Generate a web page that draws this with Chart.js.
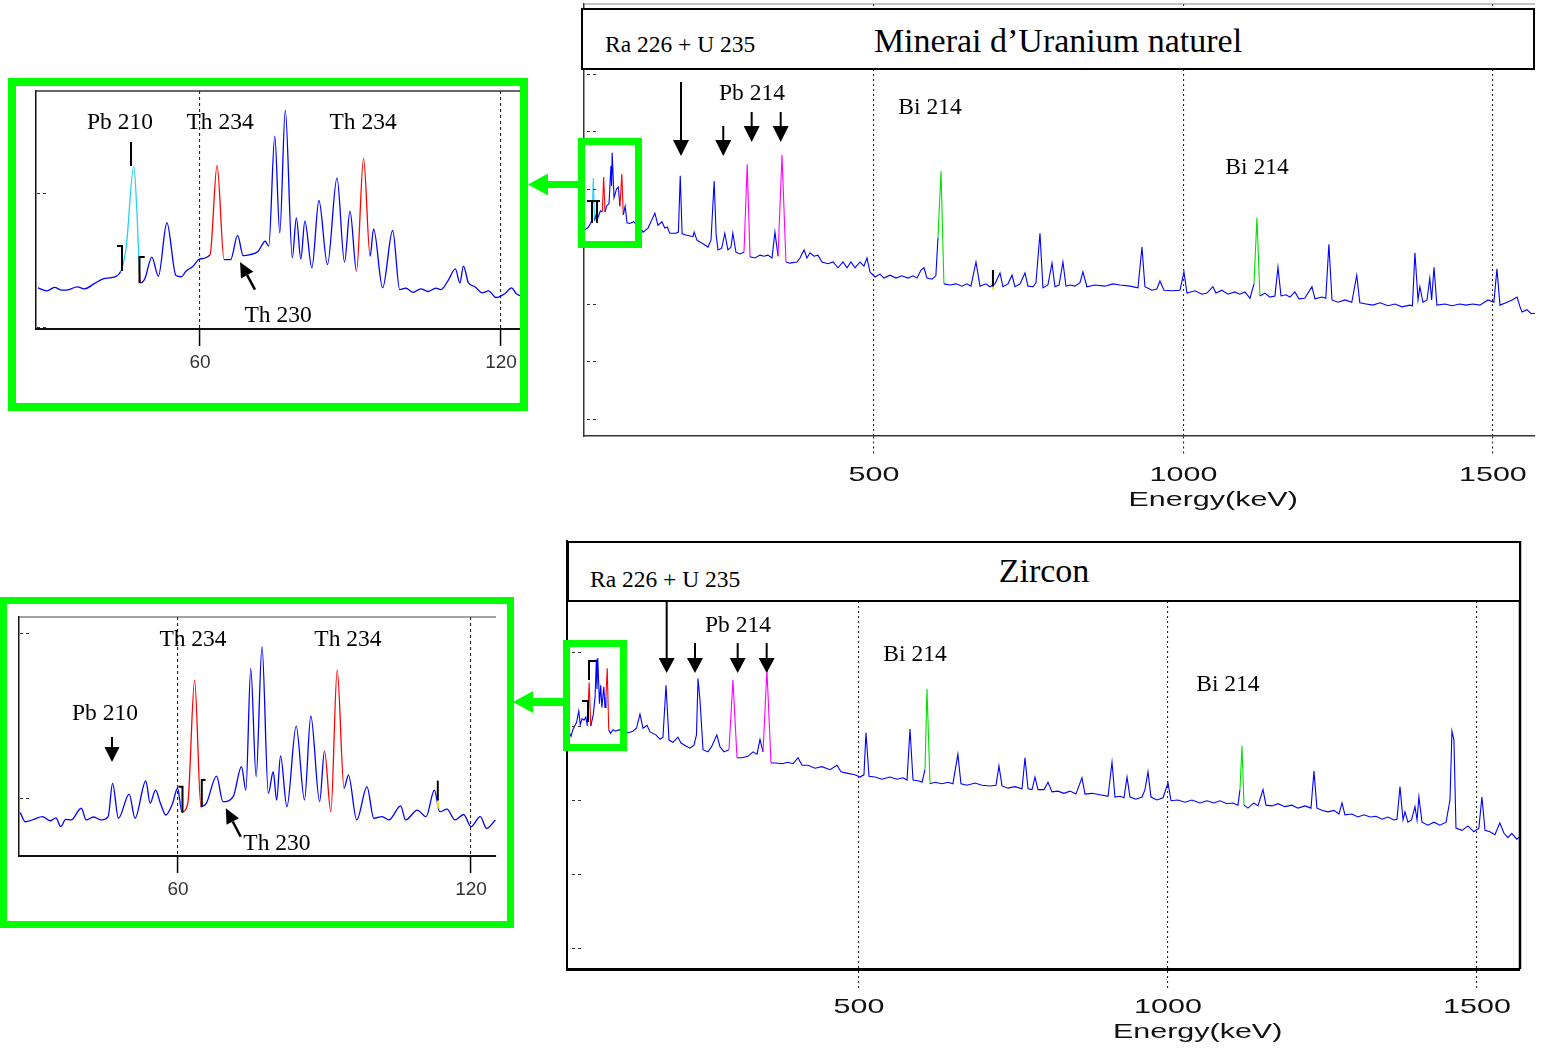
<!DOCTYPE html>
<html>
<head>
<meta charset="utf-8">
<title>Spectres gamma</title>
<script src="https://cdn.jsdelivr.net/npm/chart.js@4.4.1/dist/chart.umd.min.js"></script>
<style>
  html, body { margin: 0; background: #fff; }
  #page { position: relative; width: 1543px; height: 1048px; overflow: hidden; background: #fff; }
  #page canvas { position: absolute; }
  .gbox { position: absolute; box-sizing: border-box; border: 7px solid #00ff00; }
  .tbox { position: absolute; box-sizing: border-box; border: 2px solid #000; background: #fff;
          font-family: "Liberation Serif", "Times New Roman", serif; color: #000; }
  .tbox span { position: absolute; white-space: nowrap; }
  .tbox .sub { font-size: 23.5px; line-height: 24px; }
  .tbox .name { left: 0; right: 0; text-align: center; font-size: 34px; line-height: 40px; }
  #arrows { position: absolute; left: 0; top: 0; }
</style>
</head>
<body>
<div id="page">
  <canvas id="uranium" width="983" height="520" style="left:560px;top:0"></canvas>
  <canvas id="zircon" width="998" height="518" style="left:545px;top:530px"></canvas>
  <canvas id="uraniumZoom" width="512" height="317" style="left:16px;top:86px"></canvas>
  <canvas id="zirconZoom" width="500" height="316" style="left:7px;top:604px"></canvas>

  <div class="tbox" style="left:581px;top:8px;width:954px;height:62px">
    <span class="sub" style="left:22px;top:22px">Ra 226 + U 235</span>
    <span class="name" style="top:11px">Minerai d’Uranium naturel</span>
  </div>
  <div class="tbox" style="left:567px;top:541px;width:954px;height:61px">
    <span class="sub" style="left:21px;top:24px">Ra 226 + U 235</span>
    <span class="name" style="top:8px">Zircon</span>
  </div>

  <div class="gbox" style="left:8px;top:78px;width:520px;height:333px;border-width:8px"></div>
  <div class="gbox" style="left:578px;top:138px;width:64px;height:110px"></div>
  <div class="gbox" style="left:0;top:597px;width:514px;height:331px"></div>
  <div class="gbox" style="left:563px;top:640px;width:64px;height:111px"></div>
  <svg id="arrows" width="1543" height="1048">
    <g fill="#00ff00">
      <rect x="546" y="181" width="33" height="7"/>
      <polygon points="528,184.5 548,173.5 548,195.5"/>
      <rect x="531" y="698" width="33" height="8"/>
      <polygon points="513,702 533,691 533,713"/>
    </g>
  </svg>
</div>

<script>
// energies in keV, counts on the analyser's log (decade) display scale
const uraniumEnergy = [
  33, 38, 42, 44.5, 46.5, 48.5, 51, 54, 58, 61, 63.3, 65.5,
  68, 72, 75, 76, 77, 80, 84, 87, 89.5, 92.6, 95, 98,
  101, 105, 112, 118, 124, 127, 135, 146, 151, 157.5, 162, 166,
  170, 180, 184, 187, 190, 196, 207.6, 209.5, 214, 225, 231.8, 236.7,
  241.8, 245, 248, 254, 259, 264, 269, 272, 277, 283.5, 290, 295.2,
  299.7, 307.8, 315.8, 322, 328.7, 335.2, 340, 345, 351.4, 357.8, 364, 375.6,
  380.5, 387, 391.7, 396.6, 403, 409.5, 416, 425.7, 433.8, 441.9, 450, 456.4,
  462.9, 469.3, 477.4, 483.8, 488.7, 493.5, 501.6, 509.7, 516, 526, 535.7, 545,
  555, 563, 569.5, 576, 580.8, 585.6, 593.7, 600, 603.4, 608.3, 613, 622.8,
  632.5, 642, 650, 656.7, 664.8, 671.3, 681, 687.4, 695.5, 703.6, 708.4, 716.5,
  723, 727.8, 736, 744, 748.8, 757, 761.7, 768.2, 773, 781, 787.6, 792.4,
  799, 805.3, 810.2, 816.6, 824.7, 832.8, 837.6, 844, 857, 873, 886, 897.4,
  913.6, 926.5, 933, 937.8, 949, 957, 962, 968.5, 981.4, 994.4, 1000.8, 1005.7,
  1018.6, 1030, 1038, 1047.6, 1052.5, 1062, 1072, 1083, 1091, 1099.4, 1107.5, 1114,
  1118.7, 1123.6, 1131.7, 1139.7, 1147.8, 1152.7, 1157.6, 1165.6, 1172, 1180, 1186.6, 1196,
  1207.6, 1212.5, 1223.8, 1230, 1235, 1240, 1249.6, 1261, 1272, 1280, 1285, 1295,
  1306, 1317.6, 1330.5, 1341.8, 1353, 1366, 1370, 1374, 1379, 1382, 1387, 1393.5,
  1398, 1401, 1404.8, 1409.5, 1422.5, 1433.8, 1446.7, 1456.4, 1467.7, 1479, 1492, 1501.6,
  1506.5, 1511.4, 1521, 1531, 1539, 1543.8, 1547, 1555, 1561.7, 1568
];
const uraniumCounts = [
  3.29, 3.33, 3.40, 3.47, 4.19, 3.45, 3.55, 3.50, 3.62, 3.60, 4.21, 3.60,
  3.70, 3.75, 4.40, 4.05, 4.63, 3.85, 4.00, 4.03, 3.70, 4.26, 3.55, 3.70,
  3.41, 3.40, 3.43, 3.35, 3.30, 3.25, 3.32, 3.58, 3.37, 3.43, 3.32, 3.34,
  3.23, 3.23, 3.25, 4.23, 3.22, 3.20, 3.17, 3.25, 3.11, 3.04, 2.99, 3.11,
  4.14, 3.20, 2.94, 2.97, 3.23, 2.94, 2.99, 3.23, 2.90, 2.87, 2.90, 4.43,
  2.82, 2.80, 2.85, 2.83, 2.85, 2.80, 3.25, 2.83, 4.59, 2.73, 2.71, 2.73,
  2.80, 2.94, 2.80, 2.89, 2.83, 2.85, 2.73, 2.70, 2.73, 2.63, 2.73, 2.63,
  2.73, 2.63, 2.73, 2.66, 2.80, 2.56, 2.47, 2.52, 2.45, 2.50, 2.45, 2.49,
  2.45, 2.49, 2.45, 2.59, 2.63, 2.45, 2.43, 2.49, 3.15, 4.31, 2.35, 2.33,
  2.35, 2.31, 2.35, 2.31, 2.73, 2.31, 2.35, 2.30, 2.35, 2.54, 2.30, 2.35,
  2.50, 2.30, 2.35, 2.54, 2.31, 2.30, 2.37, 3.23, 2.28, 2.33, 2.71, 2.30,
  2.33, 2.73, 2.31, 2.33, 2.31, 2.37, 2.56, 2.30, 2.33, 2.31, 2.35, 2.33,
  2.31, 2.28, 2.99, 2.30, 2.24, 2.26, 2.40, 2.24, 2.23, 2.24, 2.56, 2.19,
  2.23, 2.17, 2.19, 2.30, 2.19, 2.24, 2.17, 2.21, 2.17, 2.21, 2.10, 2.35,
  3.50, 2.14, 2.19, 2.12, 2.14, 2.64, 2.14, 2.16, 2.12, 2.21, 2.09, 2.10,
  2.30, 2.09, 2.12, 2.10, 3.04, 2.07, 2.03, 2.07, 2.03, 2.50, 2.02, 2.00,
  1.98, 2.02, 1.97, 2.00, 1.95, 1.98, 1.97, 2.89, 2.07, 2.30, 2.03, 2.07,
  2.45, 2.07, 2.64, 1.98, 2.00, 1.97, 2.00, 1.98, 2.00, 1.98, 2.07, 2.03,
  2.61, 1.98, 2.02, 2.07, 2.12, 1.95, 1.86, 1.90, 1.83, 1.84
];

const zirconEnergy = [
  28, 31, 34, 37, 40, 43, 46.5, 49, 52, 55, 58, 60.5,
  63.3, 66, 70, 73, 75, 76, 77.3, 80, 82, 84, 87, 89,
  90.5, 92.6, 95, 98, 102, 106, 112, 120, 126.2, 134, 140, 145.6,
  150.5, 157, 161.8, 171.5, 178, 182.8, 187.7, 192.6, 199, 207, 212, 220,
  226.5, 233, 237, 239.5, 242.7, 247.6, 255.7, 262, 270, 275, 281.6, 289.6,
  296, 302.6, 310.7, 320.4, 328.5, 335, 339.8, 344.7, 351, 357.6, 365.7, 375.4,
  385, 393.2, 401.3, 407.8, 417.5, 428.8, 440, 453, 464.4, 470.9, 482, 493.5,
  501.6, 508, 511.3, 516.2, 526, 537, 550, 561.5, 571.2, 577.7, 582.5, 587.4,
  595.5, 602, 606.8, 610, 614.9, 623, 634.3, 644, 652, 660, 665, 674.8,
  687.7, 699, 712, 721.7, 726.5, 731.4, 741, 752.4, 763.8, 768.6, 773.5, 780,
  784.8, 789.6, 799.4, 805.8, 812.3, 822, 831.7, 841.4, 851, 860.8, 865.7, 877,
  890, 903, 909.4, 914.2, 922.3, 928.8, 933.7, 938.5, 948, 958, 962.8, 967.6,
  972.5, 982, 992, 1000, 1004.9, 1016, 1027.5, 1038.8, 1051.8, 1063, 1074.4, 1084,
  1095.5, 1105, 1113.3, 1116.5, 1119.7, 1123, 1129.4, 1139, 1145.6, 1153.7, 1158.6, 1168.3,
  1178, 1189.3, 1200.6, 1210.4, 1221.7, 1231.4, 1236.2, 1241, 1249, 1258.9, 1268.6, 1276.7,
  1281.6, 1286.4, 1297.7, 1307.4, 1317, 1327, 1336.6, 1346.3, 1356, 1365.7, 1370.5, 1375.4,
  1380.3, 1383.5, 1388.3, 1394, 1399.7, 1403, 1406, 1411, 1420.7, 1430.4, 1440, 1450,
  1456.3, 1459.5, 1462.7, 1466, 1475.7, 1485.4, 1495, 1503, 1508, 1513, 1521, 1529,
  1537, 1543.7, 1550, 1556.3, 1564.4, 1569
];
const zirconCounts = [
  2.88, 2.92, 2.86, 2.95, 3.00, 3.05, 3.20, 3.02, 3.10, 3.08, 3.12, 3.00,
  3.59, 3.00, 3.15, 3.40, 3.90, 3.50, 3.92, 3.30, 3.55, 3.25, 3.53, 3.25,
  3.40, 3.78, 2.95, 2.90, 2.95, 2.93, 2.95, 2.90, 2.91, 2.93, 2.97, 3.16,
  2.97, 3.01, 2.92, 2.88, 2.82, 2.85, 3.55, 2.81, 2.78, 2.85, 2.77, 2.73,
  2.70, 2.74, 2.88, 3.64, 3.35, 2.68, 2.65, 2.73, 2.88, 2.72, 2.65, 2.68,
  3.62, 2.57, 2.57, 2.59, 2.65, 2.62, 2.82, 2.65, 3.76, 2.50, 2.50, 2.49,
  2.51, 2.49, 2.57, 2.47, 2.47, 2.43, 2.45, 2.41, 2.47, 2.38, 2.36, 2.34,
  2.31, 2.34, 2.91, 2.32, 2.31, 2.28, 2.31, 2.28, 2.30, 2.27, 2.96, 2.27,
  2.26, 2.24, 2.41, 3.50, 2.22, 2.24, 2.22, 2.24, 2.22, 2.62, 2.22, 2.20,
  2.23, 2.20, 2.19, 2.20, 2.46, 2.19, 2.16, 2.18, 2.15, 2.57, 2.15, 2.14,
  2.31, 2.14, 2.14, 2.24, 2.11, 2.12, 2.09, 2.12, 2.08, 2.30, 2.08, 2.09,
  2.07, 2.05, 2.51, 2.04, 2.05, 2.03, 2.31, 2.04, 2.01, 2.04, 2.14, 2.38,
  2.04, 2.00, 2.03, 2.23, 1.99, 2.00, 1.97, 2.00, 1.96, 1.99, 1.96, 1.99,
  1.95, 1.96, 1.93, 2.14, 2.73, 1.93, 1.89, 1.96, 1.92, 2.14, 1.93, 1.92,
  1.95, 1.91, 1.93, 1.89, 1.92, 1.89, 2.39, 1.89, 1.86, 1.84, 1.86, 1.81,
  1.96, 1.80, 1.81, 1.77, 1.80, 1.77, 1.78, 1.74, 1.77, 1.73, 1.74, 2.18,
  1.73, 1.84, 1.70, 1.73, 1.91, 1.73, 2.04, 1.70, 1.66, 1.70, 1.66, 1.70,
  2.00, 2.93, 2.81, 1.62, 1.59, 1.65, 1.57, 1.62, 2.04, 1.59, 1.57, 1.53,
  1.69, 1.55, 1.49, 1.55, 1.47, 1.50
];

// low-energy zooms (arbitrary linear counts)
const uraniumZoomEnergy = [
  27.7, 29.5, 31, 32.5, 33.9, 35.5, 37, 39, 40.7, 42.5, 44.2, 45.3,
  46.8, 47.5, 47.9, 48.1, 49, 50.4, 51.7, 53.4, 55.2, 56.3, 57.2, 58.5,
  60.0, 62.0, 63.4, 64.8, 66.1, 67.5, 68.6, 70, 71.6, 73.0, 73.7, 74.9,
  75.9, 77.0, 78.4, 79.2, 80.1, 80.9, 82.3, 83.7, 85.4, 87.3, 88.8, 89.9,
  91.2, 92.6, 93.9, 94.6, 96.4, 98.4, 99.8, 101, 102.5, 104, 105.5, 107,
  108.0, 109.5, 110.9, 111.8, 112.5, 113.5, 114.8, 116.3, 117.5, 119.0, 120.8, 122.1, 123.0, 123.8
];
const uraniumZoomCounts = [
  29.2, 27.0, 29.5, 27.5, 27.9, 30.0, 28.5, 32.5, 35.9, 37.0, 41.6, 60,
  120, 80, 42.8, 32.9, 36, 52.1, 37.9, 77.8, 38.4, 37.5, 41.6, 45,
  50.8, 54.0, 120.6, 50.3, 50.3, 68.3, 53.3, 54, 56.6, 64.0, 60.3, 142.5,
  70.2, 161.9, 51.6, 81.5, 50.8, 79.0, 44.1, 94.4, 46.6, 111.3, 48.4, 86.4,
  41.6, 125.8, 52.8, 73.2, 29.2, 72.0, 27.9, 29, 25.9, 28.5, 26.5, 29,
  27.9, 35, 43.4, 32.9, 45.4, 33, 30, 25.4, 27, 22, 25, 29.2, 25, 23.4
];

const zirconZoomEnergy = [
  27.7, 28.75, 30.5, 32.2, 33.9, 35, 36.0, 37, 38.1, 40.2, 41.2, 42.7,
  44.3, 45.7, 46.6, 47.8, 50.0, 51.2, 53.4, 54.3, 55.4, 56.4, 57.5, 58.9,
  59.9, 60.8, 62.0, 63.4, 64.7, 65.8, 67.9, 69.2, 71.3, 73.0, 73.9, 74.9,
  76.0, 77.2, 78.5, 79.5, 80.2, 81.0, 82.3, 84.2, 85.9, 87.2, 89.0, 90.0,
  91.3, 92.6, 94.0, 94.9, 96.6, 98.7, 100.1, 101.8, 103.2, 105.6, 106.6, 109.0,
  110.8, 112.5, 113.6, 115.1, 116.7, 118.5, 120.0, 121.9, 123.2, 125.0
];
const zirconZoomCounts = [
  -8.9, -14.4, -12.9, -11.3, -13.8, -12, -17.4, -13, -13.3, -6.2, -13.3, -11.5,
  -13.3, -11.3, 8.9, -12.3, 2.4, -12.3, 10.3, -3.2, 4.8, -3.2, -10.3, -3.2,
  5.9, -8.3, -3.2, 71.5, -5.3, -3.2, 13.3, -2.2, 0.8, 19.0, 4.8, 78.6,
  12.9, 91.7, 2.8, 15.9, -1.2, 25.5, -5.3, 43.6, -1.2, 49.7, -2.2, 28.5,
  -8.3, 77.6, 5.9, 13.9, -13.3, 6.8, -12.3, -11.3, -13.3, -4.8, -13.3, -7.3,
  -11.3, 4.8, -8.3, -6.8, -13.3, -10, -17.4, -11.3, -18.4, -13.3
];

const energyTicks = [500, 1000, 1500];
const zoomTicks = [60, 120];
const uraniumDecades = [0, 1, 2, 3, 4, 5, 6];
const zirconDecades = [0, 1, 2, 3, 4];
const zoomLevels = [0, 100];

const BLUE = '#0000ff', RED = '#ff0000', CYAN = '#22d4f4', MAGENTA = '#ff00ff', GREEN = '#00e000';

// energy windows drawn in the identification colour
const uraniumMarks = [[44.5, 48.5, CYAN], [61, 65.5, RED], [89.5, 95, RED], [290, 299.7, MAGENTA],
  [345, 357.8, MAGENTA], [603.4, 613, GREEN], [1114, 1123.6, GREEN]];
const zirconMarks = [[60.5, 66, RED], [90.5, 95, RED], [289.6, 302.6, MAGENTA], [344.7, 357.6, MAGENTA],
  [606.8, 614.9, GREEN], [1116.5, 1123, GREEN]];
const uraniumZoomMarks = [[44.2, 47.9, CYAN], [47.9, 48.1, RED], [62.0, 64.8, RED], [91.2, 93.9, RED]];
const zirconZoomMarks = [[60.8, 64.7, RED], [90.0, 94.0, RED]];

const uraniumNotes = [
  { text: 'Pb 214', x: 302.9, y: 5.69 },
  { text: 'Bi 214', x: 590.5, y: 5.44 },
  { text: 'Bi 214', x: 1118.9, y: 4.40 },
  { x: 188.2, down: [5.86, 4.574] },
  { x: 256.5, down: [5.096, 4.574] },
  { x: 302.4, down: [5.339, 4.817] },
  { x: 349.3, down: [5.339, 4.817] },
  { path: [[36.3, 3.79], [57.4, 3.79]] },
  { path: [[44.4, 3.79], [44.4, 3.41]] },
  { path: [[52.5, 3.79], [52.5, 3.41]] },
  { path: [[692.2, 2.59], [692.2, 2.30]] },
  { path: [[692.2, 2.30], [692.2, 2.25]], color: '#e8e800' }
];
const zirconNotes = [
  { text: 'Pb 214', x: 304.2, y: 4.378 },
  { text: 'Bi 214', x: 590.6, y: 3.986 },
  { text: 'Bi 214', x: 1097, y: 3.581 },
  { x: 188.8, down: [4.689, 3.716] },
  { x: 234.6, down: [4.12, 3.716] },
  { x: 303.7, down: [4.12, 3.716] },
  { x: 350.6, down: [4.12, 3.716] },
  { path: [[63.1, 3.622], [63.1, 3.878], [74.4, 3.878]] },
  { path: [[51.8, 3.338], [61.5, 3.338], [61.5, 3.054]] }
];
const uraniumZoomNotes = [
  { text: 'Pb 210', x: 44.05, y: 153.7 },
  { text: 'Th 234', x: 64.0, y: 153.7 },
  { text: 'Th 234', x: 92.5, y: 153.7 },
  { text: 'Th 230', x: 75.55, y: 9.7 },
  { path: [[46.25, 138.1], [46.25, 120.1]] },
  { from: [70.96, 27.9], to: [67.97, 48.5] },
  { path: [[43.46, 60.4], [44.45, 60.4], [44.45, 41.8]] },
  { path: [[48.98, 52.2], [47.94, 52.2], [47.94, 32.8]] }
];
const zirconZoomNotes = [
  { text: 'Th 234', x: 63.07, y: 97 },
  { text: 'Th 234', x: 94.81, y: 97 },
  { text: 'Pb 210', x: 45.05, y: 52.1 },
  { text: 'Th 230', x: 80.27, y: -26.7 },
  { x: 46.48, down: [37, 21.8] },
  { from: [72.84, -23.5], to: [69.79, -6.2] },
  { path: [[60.1, 6.85], [60.92, 6.85], [60.92, -8.9]] },
  { path: [[65.63, 10.9], [64.87, 10.9], [64.87, -5.3]] },
  { path: [[113.2, 10.5], [113.2, -1.6]] },
  { path: [[113.2, -1.6], [113.2, -6.5]], color: '#e8e800' }
];

Chart.defaults.font.family = '"Liberation Sans", Arial, sans-serif';

function points(xs, ys) {
  return xs.map((x, i) => ({ x, y: ys[i] }));
}

function segColor(marks) {
  return ctx => {
    const m = (ctx.p0.parsed.x + ctx.p1.parsed.x) / 2;
    const hit = marks.find(r => m > r[0] && m < r[1]);
    return hit ? hit[2] : BLUE;
  };
}

function arrow(ctx, x0, y0, x1, y1, head) {
  const [len, half, width] = head;
  const a = Math.atan2(y1 - y0, x1 - x0);
  const bx = x1 - Math.cos(a) * len, by = y1 - Math.sin(a) * len;
  ctx.lineWidth = width;
  ctx.beginPath();
  ctx.moveTo(x0, y0);
  ctx.lineTo(bx, by);
  ctx.stroke();
  ctx.beginPath();
  ctx.moveTo(x1, y1);
  ctx.lineTo(bx + Math.sin(a) * half, by - Math.cos(a) * half);
  ctx.lineTo(bx - Math.sin(a) * half, by + Math.cos(a) * half);
  ctx.closePath();
  ctx.fill();
}

// frame edges, count-axis dashes, wide energy labels and the annotations
function decor(o) {
  return {
    id: 'decor',
    afterDraw(chart) {
      const { ctx, chartArea: a } = chart;
      const sx = chart.scales.x, sy = chart.scales.y;
      const X = v => sx.getPixelForValue(v);
      const Y = v => sy.getPixelForValue(v);
      ctx.save();
      for (const [side, color, width] of o.edges) {
        ctx.strokeStyle = color;
        ctx.lineWidth = width;
        ctx.beginPath();
        if (side === 'top') { ctx.moveTo(a.left, a.top); ctx.lineTo(a.right, a.top); }
        else { ctx.moveTo(a.right, a.top); ctx.lineTo(a.right, a.bottom); }
        ctx.stroke();
      }

      ctx.strokeStyle = '#333';
      ctx.lineWidth = 1;
      ctx.setLineDash([3, 3]);
      for (const t of sy.ticks) {
        const y = Math.round(Y(t.value)) + 0.5;
        ctx.beginPath();
        ctx.moveTo(a.left + o.dash[0], y);
        ctx.lineTo(a.left + o.dash[1], y);
        ctx.stroke();
      }
      ctx.setLineDash([]);

      // centre positions below refer to the middle of the capitals
      ctx.textAlign = 'center';
      ctx.textBaseline = 'alphabetic';
      if (o.wide) {
        ctx.fillStyle = '#111';
        ctx.font = '21px "Liberation Sans", Arial, sans-serif';
        const wide = (text, x, y) => {
          ctx.save();
          ctx.translate(x, y + 7.5);
          ctx.scale(1.45, 1);
          ctx.fillText(text, 0, 0);
          ctx.restore();
        };
        sx.ticks.forEach(t => wide(String(t.value), X(t.value), a.bottom + o.wide.tick));
        wide('Energy(keV)', X(o.wide.titleAt), a.bottom + o.wide.title);
      }

      ctx.fillStyle = '#000';
      ctx.font = '23.5px "Liberation Serif", "Times New Roman", serif';
      for (const n of o.notes) {
        ctx.strokeStyle = n.color || '#000';
        if (n.text) {
          ctx.fillText(n.text, X(n.x), Y(n.y) + 7.8);
        } else if (n.down) {
          arrow(ctx, X(n.x), Y(n.down[0]), X(n.x), Y(n.down[1]), o.head);
        } else if (n.from) {
          arrow(ctx, X(n.from[0]), Y(n.from[1]), X(n.to[0]), Y(n.to[1]), o.pointer);
        } else if (n.path) {
          ctx.lineWidth = 2;
          ctx.beginPath();
          n.path.forEach(([px, py], i) => (i ? ctx.lineTo(X(px), Y(py)) : ctx.moveTo(X(px), Y(py))));
          ctx.stroke();
        }
      }
      ctx.restore();
    }
  };
}

function spectrumChart(id, s) {
  return new Chart(document.getElementById(id), {
    type: 'line',
    data: {
      datasets: [{
        data: points(s.energy, s.counts),
        borderColor: BLUE,
        borderWidth: s.lineWidth,
        pointRadius: 0,
        tension: 0,
        cubicInterpolationMode: s.smooth ? 'monotone' : 'default',
        segment: { borderColor: segColor(s.marks) },
      }],
    },
    options: {
      responsive: false,
      animation: false,
      events: [],
      layout: { padding: s.padding },
      plugins: { legend: { display: false }, tooltip: { enabled: false } },
      scales: {
        x: {
          type: 'linear',
          min: s.xRange[0],
          max: s.xRange[1],
          afterBuildTicks: scale => { scale.ticks = s.xTicks.map(value => ({ value })); },
          afterFit: scale => { scale.height = s.axisHeight; },
          grid: {
            color: '#222',
            lineWidth: 1.1,
            tickLength: s.tickLength,
            tickColor: s.tickColor,
            tickWidth: s.tickWidth,
            tickBorderDash: s.tickDash,
          },
          border: { display: true, color: s.axisColor, width: s.axisWidth[0], dash: s.gridDash },
          ticks: {
            display: s.labels,
            color: '#333',
            padding: 5,
            maxRotation: 0,
            autoSkip: false,
            font: { size: 19 },
          },
        },
        y: {
          type: 'linear',
          min: s.yRange[0],
          max: s.yRange[1],
          afterBuildTicks: scale => { scale.ticks = s.yTicks.map(value => ({ value })); },
          afterFit: scale => { scale.width = 0; },
          grid: { display: false },
          border: { display: true, color: s.axisColor, width: s.axisWidth[1] },
          ticks: { display: false },
        },
      },
    },
    plugins: [decor(s.decor)],
  });
}

spectrumChart('uranium', {
  energy: uraniumEnergy, counts: uraniumCounts, marks: uraniumMarks,
  xRange: [31.5, 1568], yRange: [-0.296, 7.217], xTicks: energyTicks, yTicks: uraniumDecades,
  padding: { left: 24, top: 4, right: 8, bottom: 0 }, axisHeight: 84,
  lineWidth: 1.1, smooth: false, labels: false,
  gridDash: [2, 3], tickLength: 19, tickColor: '#222', tickWidth: 1.1, tickDash: [2, 3],
  axisColor: '#333', axisWidth: [1.5, 1.5],
  decor: { edges: [['top', '#888', 1]], dash: [3, 15], wide: { tick: 37, title: 62, titleAt: 1048 },
           notes: uraniumNotes, head: [16, 8, 2], pointer: [14, 6.5, 2.2] },
});

spectrumChart('zircon', {
  energy: zirconEnergy, counts: zirconCounts, marks: zirconMarks,
  xRange: [27.5, 1569.6], yRange: [-0.284, 5.5], xTicks: energyTicks, yTicks: zirconDecades,
  padding: { left: 22, top: 11, right: 23, bottom: 0 }, axisHeight: 79,
  lineWidth: 1.1, smooth: false, labels: false,
  gridDash: [2, 3], tickLength: 19, tickColor: '#222', tickWidth: 1.1, tickDash: [2, 3],
  axisColor: '#000', axisWidth: [3, 2],
  decor: { edges: [['right', '#000', 2.5]], dash: [5, 17], wide: { tick: 36, title: 61, titleAt: 1048 },
           notes: zirconNotes, head: [15, 8, 2], pointer: [14, 6.5, 2.2] },
});

spectrumChart('uraniumZoom', {
  energy: uraniumZoomEnergy, counts: uraniumZoomCounts, marks: uraniumZoomMarks,
  xRange: [27.31, 123.78], yRange: [-1.49, 176.1], xTicks: zoomTicks, yTicks: zoomLevels,
  padding: { left: 20, top: 5, right: 8, bottom: 0 }, axisHeight: 74,
  lineWidth: 1.3, smooth: true, labels: true,
  gridDash: [3, 3], tickLength: 17, tickColor: '#000', tickWidth: 1.5, tickDash: [],
  axisColor: '#111', axisWidth: [2, 1.5],
  decor: { edges: [['top', '#333', 1.5]], dash: [1, 11], wide: null,
           notes: uraniumZoomNotes, head: [15, 7.5, 2], pointer: [15, 7, 2.5] },
});

spectrumChart('zirconZoom', {
  energy: zirconZoomEnergy, counts: zirconZoomCounts, marks: zirconZoomMarks,
  xRange: [27.44, 125.12], yRange: [-35.15, 109.7], xTicks: zoomTicks, yTicks: zoomLevels,
  padding: { left: 12, top: 13, right: 11, bottom: 0 }, axisHeight: 64,
  lineWidth: 1.3, smooth: true, labels: true,
  gridDash: [3, 3], tickLength: 17, tickColor: '#000', tickWidth: 1.5, tickDash: [],
  axisColor: '#111', axisWidth: [2, 1.5],
  decor: { edges: [['top', '#444', 1]], dash: [1, 11], wide: null,
           notes: zirconZoomNotes, head: [15, 7.5, 2], pointer: [15, 7, 2.5] },
});
</script>
</body>
</html>
